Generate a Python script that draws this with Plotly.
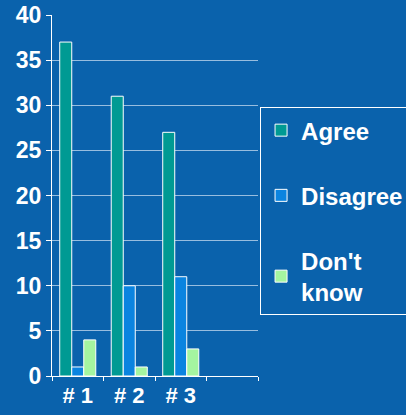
import plotly.graph_objects as go

categories = ["# 1", "# 2", "# 3", " "]
agree = [37, 31, 27, None]
disagree = [1, 10, 11, None]
dont_know = [4, 1, 3, None]
series_names = ["Agree", "Disagree", "Don't<br>know"]
colors = ["#009A93", "#0A84E0", "#A4F5A0"]
y_ticks = [0, 5, 10, 15, 20, 25, 30, 35, 40]

bg = "#0A62AC"
fig = go.Figure()
for i, (name, vals) in enumerate(zip(series_names, [agree, disagree, dont_know])):
    fig.add_trace(go.Bar(
        x=categories, y=vals, name=name,
        marker=dict(color=colors[i], line=dict(color="white", width=1)),
        legendgroup=f"g{i}",
    ))

fig.update_layout(
    width=406, height=415,
    margin=dict(l=52, r=148, t=15, b=39, autoexpand=False),
    paper_bgcolor=bg, plot_bgcolor=bg,
    barmode="group", bargap=0.3, bargroupgap=0,
    font=dict(family="Liberation Sans, Arial", color="white", size=20),
    showlegend=True,
    legend=dict(
        x=1.01, y=0.745, xanchor="left", yanchor="top",
        bgcolor=bg, bordercolor="white", borderwidth=1,
        font=dict(size=24, color="white", family="Liberation Sans, Arial", weight="bold"),
        tracegroupgap=31, itemwidth=30,
        traceorder="grouped",
    ),
    xaxis=dict(
        showline=True, linecolor="white", linewidth=1,
        tickfont=dict(size=22, color="white", weight="bold"),
        ticks="outside", tickcolor="white", ticklen=4, tickson="boundaries",
        showgrid=False,
    ),
    yaxis=dict(
        range=[0, 40], tickvals=y_ticks,
        showline=True, linecolor="white", linewidth=1,
        ticks="outside", tickcolor="white", ticklen=5,
        gridcolor="rgba(200,220,240,0.75)", gridwidth=1,
        tickfont=dict(size=23, color="white", weight="bold"),
        zeroline=False,
    ),
)
fig.write_html(
    "out.html",
    config={"displayModeBar": False},
    post_script="document.body.style.margin='0';document.body.style.overflow='hidden';",
)
